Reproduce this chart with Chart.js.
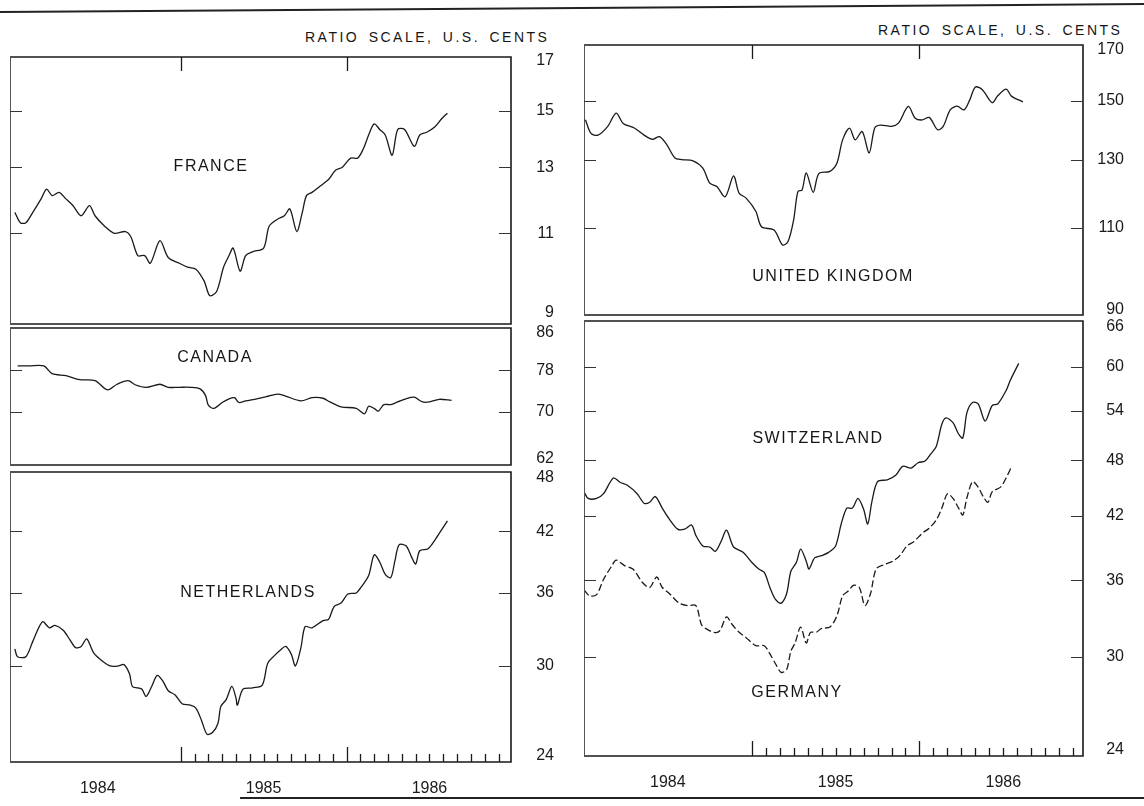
<!DOCTYPE html>
<html lang="en">
<head>
<meta charset="UTF-8">
<title>Foreign exchange rates, ratio scale, U.S. cents</title>
<script src="https://cdn.jsdelivr.net/npm/chart.js"></script>
<style>
  body { margin: 0; background: #fff; font-family: 'Liberation Sans', Arial, sans-serif; color: #161616; }
  .page { position: relative; width: 1144px; height: 806px; overflow: hidden; }
  .page canvas { position: absolute; }
  .name { position: absolute; font-size: 16px; letter-spacing: 1.5px; white-space: nowrap; transform: translate(-50%, -50%); }
  .hdr { position: absolute; font-size: 14px; letter-spacing: 2.5px; word-spacing: 3px; white-space: nowrap; transform: translateY(-50%); }
  .rule { position: absolute; background: #222; }
</style>
</head>
<body>
<div class="page">
  <div class="rule" style="left:0; top:7px; width:1144px; height:2px; transform:rotate(-0.4deg);"></div>
  <div class="rule" style="left:240px; top:797px; width:904px; height:1.5px;"></div>

  <div class="hdr" style="left:305px; top:37px;">RATIO SCALE, U.S. CENTS</div>
  <div class="hdr" style="left:878px; top:30px;">RATIO SCALE, U.S. CENTS</div>

  <canvas id="france"></canvas>
  <canvas id="canada"></canvas>
  <canvas id="netherlands"></canvas>
  <canvas id="uk"></canvas>
  <canvas id="swissGerman"></canvas>

  <div class="name" style="left:211px; top:166px;">FRANCE</div>
  <div class="name" style="left:215px; top:357px;">CANADA</div>
  <div class="name" style="left:248px; top:592px;">NETHERLANDS</div>
  <div class="name" style="left:833px; top:276px;">UNITED KINGDOM</div>
  <div class="name" style="left:818px; top:438px;">SWITZERLAND</div>
  <div class="name" style="left:797px; top:692px;">GERMANY</div>
</div>

<script>
// months counted from January 1984 (0 = Jan 1984, 12 = Jan 1985, 24 = Jan 1986)
const years = ['1984', '1985', '1986'];
const yearMid = [6, 18, 30];

const franceT = [0, 0.4, 0.8, 1.3, 1.9, 2.3, 2.7, 3.2, 3.7, 4.2, 4.8, 5.4, 5.8, 6.5, 7.2, 8.0, 8.4, 8.9, 9.4, 9.8, 10.5, 11.1, 11.9, 12.5, 13.1, 13.7, 14.1, 14.6, 15.1, 15.5, 15.8, 16.3, 16.7, 17.2, 18.0, 18.4, 19.0, 19.5, 19.9, 20.4, 20.8, 21.1, 21.5, 22.1, 22.7, 23.2, 23.7, 24.3, 24.8, 25.2, 25.6, 26.0, 26.4, 26.8, 27.3, 27.7, 28.2, 28.9, 29.3, 29.8, 30.4, 30.9, 31.3];
const franceV = [11.6, 11.3, 11.3, 11.6, 12.0, 12.3, 12.1, 12.2, 12.0, 11.8, 11.5, 11.8, 11.5, 11.2, 11.0, 11.05, 10.9, 10.4, 10.4, 10.2, 10.8, 10.35, 10.2, 10.1, 10.05, 9.75, 9.4, 9.5, 10.1, 10.4, 10.6, 10.0, 10.4, 10.5, 10.6, 11.2, 11.4, 11.5, 11.7, 11.05, 11.6, 12.1, 12.2, 12.4, 12.6, 12.9, 13.0, 13.3, 13.3, 13.6, 14.1, 14.5, 14.3, 14.1, 13.4, 14.3, 14.3, 13.7, 14.1, 14.2, 14.4, 14.7, 14.9];

const canadaT = [0.2, 1.0, 2.1, 2.7, 3.7, 4.7, 5.8, 6.7, 7.4, 8.2, 8.7, 9.5, 10.5, 11.1, 11.9, 12.7, 13.4, 13.8, 14.0, 14.4, 15.0, 15.5, 15.9, 16.2, 16.7, 17.5, 18.2, 19.0, 19.6, 20.7, 21.5, 22.3, 22.8, 23.6, 24.7, 25.3, 25.6, 26.0, 26.3, 26.7, 27.2, 27.7, 28.3, 28.9, 29.5, 30.0, 30.7, 31.6];
const canadaV = [78.9, 78.9, 78.9, 77.3, 76.9, 76.1, 75.9, 74.1, 75.2, 75.9, 75.1, 74.6, 75.2, 74.6, 74.6, 74.6, 74.3, 73.0, 71.2, 70.6, 71.7, 72.4, 72.6, 71.7, 72.0, 72.4, 72.8, 73.3, 72.9, 72.0, 72.6, 72.5, 71.8, 70.9, 70.6, 69.6, 71.0, 70.6, 70.1, 71.3, 71.3, 71.8, 72.4, 72.7, 71.8, 71.8, 72.3, 72.1];

const netherlandsT = [0, 0.2, 0.8, 1.3, 2.0, 2.5, 2.9, 3.5, 4.0, 4.4, 4.8, 5.2, 5.7, 6.3, 6.9, 7.5, 7.9, 8.3, 8.5, 8.9, 9.2, 9.5, 9.9, 10.3, 10.7, 11.1, 11.6, 12.1, 12.7, 13.1, 13.5, 13.9, 14.3, 14.7, 14.9, 15.3, 15.7, 16.0, 16.1, 16.5, 17.2, 17.9, 18.3, 18.8, 19.2, 19.6, 20.0, 20.3, 20.7, 21.0, 21.5, 22.3, 22.7, 23.1, 23.6, 24.1, 24.7, 25.1, 25.6, 26.0, 26.4, 26.8, 27.2, 27.5, 27.8, 28.3, 28.7, 29.0, 29.3, 29.9, 30.4, 30.9, 31.3];
const netherlandsV = [31.3, 30.7, 30.7, 31.9, 33.5, 33.0, 33.2, 32.8, 32.0, 31.4, 31.5, 32.1, 31.0, 30.4, 30.0, 30.0, 30.1, 29.4, 28.5, 28.4, 28.3, 27.8, 28.5, 29.3, 28.9, 28.2, 27.9, 27.3, 27.2, 27.0, 26.2, 25.3, 25.4, 26.0, 27.1, 27.6, 28.5, 27.7, 27.2, 28.3, 28.4, 28.6, 30.2, 30.8, 31.2, 31.5, 30.9, 30.0, 31.4, 33.1, 33.0, 33.6, 33.7, 34.8, 35.1, 35.9, 36.0, 36.6, 37.6, 39.6, 38.9, 37.7, 37.4, 39.0, 40.6, 40.5, 39.4, 38.7, 40.0, 40.2, 41.1, 42.2, 43.1];

const ukT = [0.1, 0.5, 1.0, 1.7, 2.3, 2.8, 3.6, 4.3, 4.9, 5.4, 5.9, 6.5, 7.0, 7.8, 8.5, 9.0, 9.5, 10.1, 10.7, 11.1, 11.6, 12.3, 12.7, 13.6, 14.2, 14.6, 15.0, 15.3, 15.6, 15.9, 16.4, 16.8, 17.6, 18.1, 18.5, 19.0, 19.4, 19.9, 20.4, 20.8, 21.2, 22.0, 22.5, 23.2, 23.7, 24.2, 24.7, 25.3, 25.7, 26.2, 26.7, 27.2, 27.6, 28.0, 28.5, 29.2, 29.6, 30.2, 30.6, 31.4];
const ukV = [143.3, 138.6, 138, 141, 145.6, 142, 140.4, 138, 136.6, 137.5, 135, 130.5, 130, 129.6, 127.3, 122.7, 121.7, 118.7, 124.9, 119.7, 118.3, 114.5, 110.3, 109.4, 105.5, 106.4, 112.2, 120.2, 120.7, 125.8, 120, 125.6, 126.3, 128.9, 136.4, 140.4, 136.4, 139.2, 132.1, 140.4, 141.4, 141, 142.1, 148, 143.8, 143.2, 144.1, 139.8, 141, 146.8, 148.1, 146.8, 150.4, 155.2, 154.2, 149.4, 151.9, 154.4, 151.7, 149.7];

const swissT = [0, 0.3, 0.9, 1.4, 2.1, 2.6, 3.1, 3.8, 4.3, 4.7, 5.1, 5.6, 6.0, 6.7, 7.2, 7.7, 8.0, 8.5, 9.0, 9.4, 9.8, 10.2, 10.7, 11.4, 12.0, 12.5, 12.9, 13.3, 13.7, 14.1, 14.5, 14.8, 15.2, 15.5, 15.9, 16.1, 16.5, 17.0, 17.5, 18.0, 18.4, 18.8, 19.2, 19.6, 20.0, 20.3, 20.6, 21.0, 21.7, 22.3, 22.8, 23.4, 23.9, 24.4, 24.8, 25.2, 25.6, 25.9, 26.4, 26.8, 27.1, 27.4, 27.8, 28.2, 28.7, 29.2, 29.6, 30.2, 30.5, 31.1];
const swissV = [44.5, 43.8, 43.8, 44.3, 46.0, 45.5, 45.2, 44.3, 43.3, 43.4, 44.0, 42.8, 41.9, 40.7, 40.7, 41.1, 40.1, 39.1, 39.0, 38.6, 39.5, 40.6, 39.0, 38.5, 37.6, 37.0, 36.7, 35.4, 34.4, 34.1, 34.9, 36.8, 37.6, 38.8, 37.7, 37.0, 38.0, 38.2, 38.5, 39.1, 41.2, 42.8, 42.8, 43.8, 42.7, 41.2, 43.5, 45.6, 45.8, 46.3, 47.3, 47.1, 47.7, 47.9, 48.7, 49.6, 52.3, 53.1, 52.5, 51.1, 50.6, 53.8, 55.1, 54.9, 52.7, 54.7, 54.9, 56.7, 58.1, 60.5];

const germanyT = [0, 0.4, 0.9, 1.4, 2.0, 2.3, 2.9, 3.5, 4.2, 4.7, 5.2, 5.6, 6.1, 6.8, 7.4, 8.0, 8.4, 8.7, 9.3, 9.7, 10.2, 10.6, 11.1, 11.6, 12.3, 12.9, 13.3, 13.7, 14.1, 14.5, 14.8, 15.1, 15.5, 15.9, 16.2, 16.6, 17.0, 17.6, 18.1, 18.5, 18.9, 19.3, 19.7, 20.1, 20.5, 20.9, 21.5, 22.1, 22.6, 23.1, 23.6, 24.2, 24.7, 25.2, 25.6, 26.0, 26.4, 26.8, 27.1, 27.4, 27.8, 28.2, 28.6, 28.9, 29.2, 29.8, 30.2, 30.6];
const germanyV = [35.2, 34.7, 34.8, 36.1, 37.3, 37.8, 37.3, 37.0, 35.8, 35.4, 36.3, 35.4, 34.9, 34.1, 33.9, 33.9, 32.4, 32.1, 31.8, 31.9, 33.0, 32.4, 31.8, 31.4, 30.8, 30.8, 30.2, 29.5, 28.9, 29.1, 30.4, 31.0, 32.2, 31.0, 31.8, 31.8, 32.1, 32.2, 33.1, 34.7, 35.1, 35.6, 35.4, 33.9, 34.9, 37.0, 37.4, 37.7, 38.2, 39.1, 39.5, 40.3, 40.8, 41.6, 42.8, 44.3, 43.8, 42.8, 42.1, 43.9, 45.6, 45.0, 43.9, 43.4, 44.5, 45.0, 46.0, 47.3];

const franceTicks = [9, 11, 13, 15, 17];
const canadaTicks = [62, 70, 78, 86];
const netherlandsTicks = [24, 30, 36, 42, 48];
const ukTicks = [90, 110, 130, 150, 170];
const swissTicks = [24, 30, 36, 42, 48, 54, 60, 66];

const FONT = "'Liberation Sans', Arial, sans-serif";
const INK = '#1a1a1a';

// frame, inner tick dashes and the month ticks along the bottom
const frameTicks = {
  id: 'frameTicks',
  afterDraw(chart, args, opt) {
    const { ctx, chartArea: a } = chart;
    const x = chart.scales.x, y = chart.scales.y;
    ctx.save();
    ctx.strokeStyle = INK;
    ctx.lineWidth = 1.6;
    ctx.beginPath();
    ctx.moveTo(a.left, a.top);
    ctx.lineTo(a.right, a.top);
    ctx.lineTo(a.right, a.bottom);
    ctx.lineTo(a.left, a.bottom);
    ctx.stroke();
    ctx.strokeStyle = '#555';
    ctx.lineWidth = 1;
    ctx.beginPath();
    ctx.moveTo(a.left + 0.5, a.top);
    ctx.lineTo(a.left + 0.5, a.bottom);
    ctx.stroke();

    ctx.strokeStyle = '#333';
    y.ticks.slice(1, -1).forEach(t => {
      const py = Math.round(y.getPixelForValue(t.value)) + 0.5;
      ctx.beginPath();
      ctx.moveTo(a.left, py); ctx.lineTo(a.left + 12, py);
      ctx.moveTo(a.right - 12, py); ctx.lineTo(a.right, py);
      ctx.stroke();
    });

    ctx.strokeStyle = INK;
    ctx.lineWidth = 1.3;
    if (opt.monthTicks) {
      for (let m = 12; m < 36; m++) {
        const px = Math.round(x.getPixelForValue(m)) + 0.5;
        const len = m % 12 === 0 ? 15 : 8;
        ctx.beginPath();
        ctx.moveTo(px, a.bottom);
        ctx.lineTo(px, a.bottom - len);
        ctx.stroke();
      }
    }
    if (opt.topTicks) {
      [12, 24].forEach(m => {
        const px = Math.round(x.getPixelForValue(m)) + 0.5;
        ctx.beginPath();
        ctx.moveTo(px, a.top);
        ctx.lineTo(px, a.top + 14);
        ctx.stroke();
      });
    }
    ctx.restore();
  }
};

function panel(cfg) {
  const pad = 12;
  const axisH = 42;
  const bottom = !!cfg.bottom;
  const cv = document.getElementById(cfg.id);
  cv.width = pad + cfg.box.w + cfg.labelW;
  cv.height = pad + cfg.box.h + (bottom ? axisH : pad);
  cv.style.left = (cfg.box.x - pad) + 'px';
  cv.style.top = (cfg.box.y - pad) + 'px';

  new Chart(cv, {
    type: 'line',
    data: {
      datasets: cfg.series.map(s => ({
        label: s.name,
        data: s.t.map((m, i) => ({ x: m, y: s.v[i] })),
        borderColor: INK,
        borderWidth: 1.3,
        borderDash: s.dash || [],
        pointRadius: 0,
        tension: 0.3,
        fill: false
      }))
    },
    options: {
      responsive: false,
      animation: false,
      events: [],
      layout: { padding: { left: pad, top: pad, right: 0, bottom: bottom ? 0 : pad } },
      plugins: {
        legend: { display: false },
        tooltip: { enabled: false },
        frameTicks: { monthTicks: bottom, topTicks: !!cfg.topTicks }
      },
      scales: {
        x: {
          type: 'linear',
          min: cfg.xMin,
          max: cfg.xMax,
          display: bottom,
          grid: { display: false, drawTicks: false },
          border: { display: false },
          afterBuildTicks: s => { s.ticks = yearMid.map(v => ({ value: v })); },
          afterFit: s => { s.height = bottom ? axisH : 0; s.paddingLeft = 0; s.paddingRight = 0; },
          ticks: {
            autoSkip: false, maxRotation: 0, padding: 17, color: INK,
            font: { family: FONT, size: 16 },
            callback: v => years[yearMid.indexOf(v)]
          }
        },
        y: {
          type: 'logarithmic',
          position: 'right',
          min: cfg.yMin,
          max: cfg.yMax,
          grid: { display: false, drawTicks: false },
          border: { display: false },
          afterBuildTicks: s => { s.ticks = cfg.yTicks.map(v => ({ value: v })); },
          afterFit: s => { s.width = cfg.labelW; s.paddingTop = 0; s.paddingBottom = 0; },
          ticks: {
            autoSkip: false, padding: 10, crossAlign: 'far', color: INK,
            font: { family: FONT, size: 16 },
            callback: v => String(v)
          }
        }
      }
    },
    plugins: [frameTicks]
  });
}

const leftX = { x: 10, w: 501 };
const rightX = { x: 584, w: 499 };

panel({ id: 'france', box: { ...leftX, y: 57, h: 267 }, labelW: 43,
  xMin: -0.35, xMax: 35.9, yMin: 8.75, yMax: 17.17, yTicks: franceTicks, topTicks: true,
  series: [{ name: 'France', t: franceT, v: franceV }] });

panel({ id: 'canada', box: { ...leftX, y: 328, h: 137 }, labelW: 43,
  xMin: -0.35, xMax: 35.9, yMin: 60.9, yMax: 87.1, yTicks: canadaTicks,
  series: [{ name: 'Canada', t: canadaT, v: canadaV }] });

panel({ id: 'netherlands', box: { ...leftX, y: 472, h: 290 }, labelW: 43, bottom: true,
  xMin: -0.35, xMax: 35.9, yMin: 23.6, yMax: 48.7, yTicks: netherlandsTicks,
  series: [{ name: 'Netherlands', t: netherlandsT, v: netherlandsV }] });

panel({ id: 'uk', box: { ...rightX, y: 45, h: 270 }, labelW: 41, topTicks: true,
  xMin: 0, xMax: 35.7, yMin: 88.9, yMax: 172, yTicks: ukTicks,
  series: [{ name: 'United Kingdom', t: ukT, v: ukV }] });

panel({ id: 'swissGerman', box: { ...rightX, y: 321, h: 435 }, labelW: 41, bottom: true,
  xMin: 0, xMax: 35.7, yMin: 23.66, yMax: 66.95, yTicks: swissTicks,
  series: [
    { name: 'Switzerland', t: swissT, v: swissV },
    { name: 'Germany', t: germanyT, v: germanyV, dash: [7, 3] }
  ] });
</script>
</body>
</html>
